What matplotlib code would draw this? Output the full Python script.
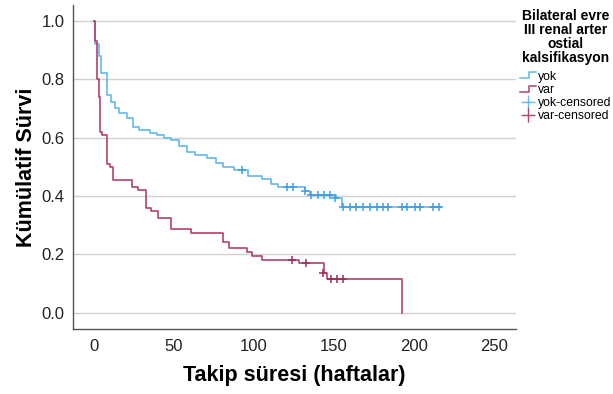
import matplotlib
matplotlib.use("Agg")
import matplotlib.pyplot as plt
from matplotlib.lines import Line2D
from matplotlib.legend_handler import HandlerBase

# Kaplan-Meier steps (weeks, survival)
yok_times = [0, 1, 3, 4.5, 8.5, 11, 13, 16, 20.5, 24.5, 28.5, 35, 39.5, 44, 48.5, 53,
             58, 63, 71, 76.5, 80.5, 87.5, 96.5, 105, 111, 115, 132, 135, 151.5, 155, 217]
yok_surv = [1.0, 0.92, 0.88, 0.82, 0.745, 0.72, 0.70, 0.683, 0.666, 0.635, 0.626, 0.617,
            0.609, 0.60, 0.59, 0.57, 0.55, 0.54, 0.53, 0.513, 0.50, 0.488, 0.47, 0.457,
            0.442, 0.43, 0.417, 0.403, 0.393, 0.362, 0.362]

var_times = [0, 1, 2, 3, 4, 5, 8, 10, 12, 24, 27.5, 32.5, 36, 40, 48, 60.5, 80.5, 84.5,
             96, 99, 105, 128, 144, 146, 192.5]
var_surv = [1.0, 0.93, 0.80, 0.74, 0.62, 0.61, 0.51, 0.50, 0.455, 0.43, 0.42, 0.36, 0.35,
            0.325, 0.287, 0.273, 0.243, 0.222, 0.209, 0.195, 0.181, 0.171, 0.137, 0.116, 0.0]

yok_cens_t = [92.5, 120.5, 124.5, 132, 136, 140, 144, 147.5, 151, 156, 160, 164, 168,
              172.5, 177, 181, 184, 192.5, 196, 200.5, 204, 212, 215.5]
yok_cens_s = [0.488, 0.43, 0.43, 0.417, 0.403, 0.403, 0.403, 0.403, 0.393, 0.362, 0.362,
              0.362, 0.362, 0.362, 0.362, 0.362, 0.362, 0.362, 0.362, 0.362, 0.362,
              0.362, 0.362]

var_cens_t = [124, 132.5, 143, 148, 152, 156]
var_cens_s = [0.181, 0.171, 0.137, 0.116, 0.116, 0.116]

blue = '#62B9EC'
blue_c = '#3A9FE4'
red = '#B0426E'
red_c = '#A02A58'

plt.rcParams['font.family'] = ['Liberation Sans', 'DejaVu Sans']


class StepHandler(HandlerBase):
    def create_artists(self, legend, orig_handle, xdescent, ydescent,
                       width, height, fontsize, trans):
        x0, x1 = -xdescent, -xdescent + width
        xm = x0 + width * 0.55
        ylo = -ydescent + height * 0.15
        yhi = -ydescent + height * 0.85
        line = Line2D([x0, xm, xm, x1], [ylo, ylo, yhi, yhi],
                      color=orig_handle.get_color(), lw=1.1, transform=trans)
        return [line]


fig = plt.figure(figsize=(6.13, 3.94), dpi=100)
ax = fig.add_axes([0.119, 0.165, 0.723, 0.822])

ax.plot(yok_times, yok_surv, drawstyle='steps-post', color=blue, lw=1.2, zorder=3)
ax.plot(var_times, var_surv, drawstyle='steps-post', color=red, lw=1.2, zorder=4)
ax.plot(yok_cens_t, yok_cens_s, ls='none', marker='+', ms=6, mew=1.1, color=blue_c, zorder=5)
ax.plot(var_cens_t, var_cens_s, ls='none', marker='+', ms=6, mew=1.1, color=red_c, zorder=5)

ax.set_xlim(-13, 264)
ax.set_ylim(-0.055, 1.053)
ax.set_xticks([0, 50, 100, 150, 200, 250])
ax.set_yticks([0.0, 0.2, 0.4, 0.6, 0.8, 1.0])
ax.set_yticklabels(['0.0', '0.2', '0.4', '0.6', '0.8', '1.0'])
ax.tick_params(length=0, labelsize=12, colors='#222222')
ax.tick_params(axis='y', pad=6)
ax.tick_params(axis='x', pad=7)
ax.grid(axis='y', color='#d0d0d0', lw=1.0)
ax.set_axisbelow(True)
for s in ['top', 'right']:
    ax.spines[s].set_visible(False)
for s in ['left', 'bottom']:
    ax.spines[s].set_color('#555555')
    ax.spines[s].set_linewidth(1.0)

ax.set_xlabel('Takip süresi (haftalar)', fontsize=15.5, fontweight='bold', labelpad=8)
ax.set_ylabel('Kümülatif Sürvi', fontsize=15.5, fontweight='bold', labelpad=3)

handles = [Line2D([], [], color=blue), Line2D([], [], color=red),
           Line2D([], [], ls='none', marker='+', ms=10, mew=1.0, color=blue),
           Line2D([], [], ls='none', marker='+', ms=10, mew=1.0, color=red)]
labels = ['yok', 'var', 'yok-censored', 'var-censored']
leg = fig.legend(handles, labels, loc='upper center', bbox_to_anchor=(0.923, 0.98),
                 title='Bilateral evre\nIII renal arter\nostial\nkalsifikasyon',
                 title_fontproperties={'weight': 'bold', 'size': 10},
                 alignment='center',
                 fontsize=8.8, frameon=False, handlelength=1.3, handletextpad=0.2,
                 labelspacing=0.1, borderpad=0.1, borderaxespad=0,
                 handler_map={handles[0]: StepHandler(), handles[1]: StepHandler()})
leg.get_title().set_multialignment('center')
leg.get_title().set_linespacing(1.0)
leg._legend_box.sep = 4

fig.savefig('out.png', dpi=100)
